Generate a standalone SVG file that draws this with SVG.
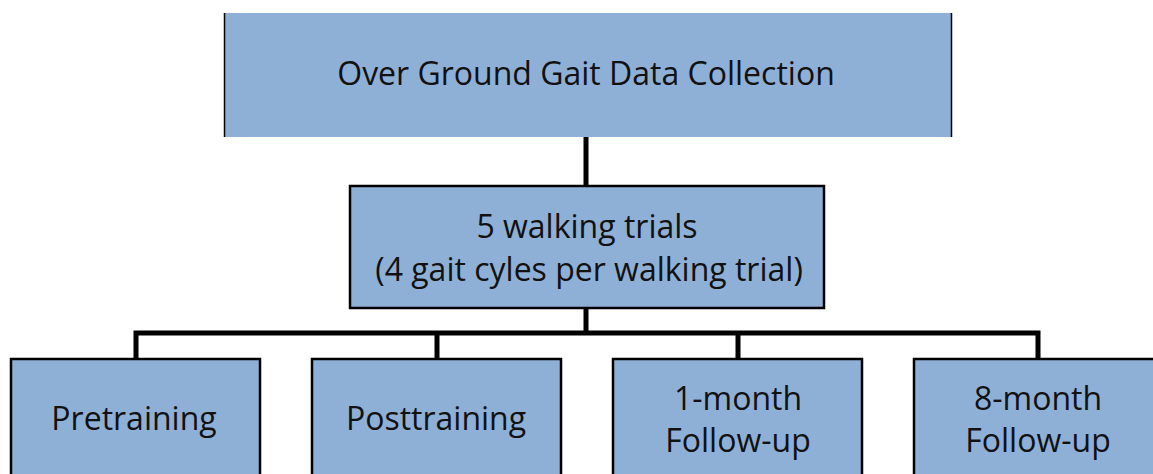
<svg xmlns="http://www.w3.org/2000/svg" width="1153" height="474" viewBox="0 0 1153 474">
<style>
.box{fill:#8fb0d6;stroke:#000;stroke-width:2.5}
.t{font-family:"Open Sans","Liberation Sans",sans-serif;font-size:32px;fill:#111;text-anchor:middle}
.c{fill:none;stroke:#000;stroke-width:5;stroke-linejoin:miter}
</style>
<rect width="1153" height="474" fill="#fff"/>
<g id="connectors">
<line class="c" x1="586" y1="137" x2="586" y2="186"/>
<line class="c" x1="586" y1="308" x2="586" y2="333"/>
<polyline class="c" points="136,358 136,333 1038,333 1038,358"/>
<line class="c" x1="437" y1="333" x2="437" y2="358"/>
<line class="c" x1="738" y1="333" x2="738" y2="358"/>
</g>
<g id="top">
<rect x="224" y="13" width="728" height="124" fill="#8fb0d6"/>
<line x1="224.5" y1="13" x2="224.5" y2="137" stroke="#000" stroke-width="1.5"/>
<line x1="951.5" y1="13" x2="951.5" y2="137" stroke="#000" stroke-width="1.5"/>
<text class="t" x="586" y="85">Over Ground Gait Data Collection</text>
</g>
<g id="trials">
<rect class="box" x="350" y="186" width="474" height="122"/>
<text class="t" x="587" y="238">5 walking trials</text>
<text class="t" x="589" y="281">(4 gait cyles per walking trial)</text>
</g>
<g id="pre">
<rect class="box" x="11" y="359" width="249" height="130"/>
<text class="t" x="134" y="430">Pretraining</text>
</g>
<g id="post">
<rect class="box" x="312" y="359" width="249" height="130"/>
<text class="t" x="436" y="430">Posttraining</text>
</g>
<g id="m1">
<rect class="box" x="613" y="359" width="249" height="130"/>
<text class="t" x="738" y="410">1-month</text>
<text class="t" x="738" y="452">Follow-up</text>
</g>
<g id="m8">
<rect class="box" x="914" y="359" width="260" height="130"/>
<text class="t" x="1038" y="410">8-month</text>
<text class="t" x="1038" y="452">Follow-up</text>
</g>
</svg>
